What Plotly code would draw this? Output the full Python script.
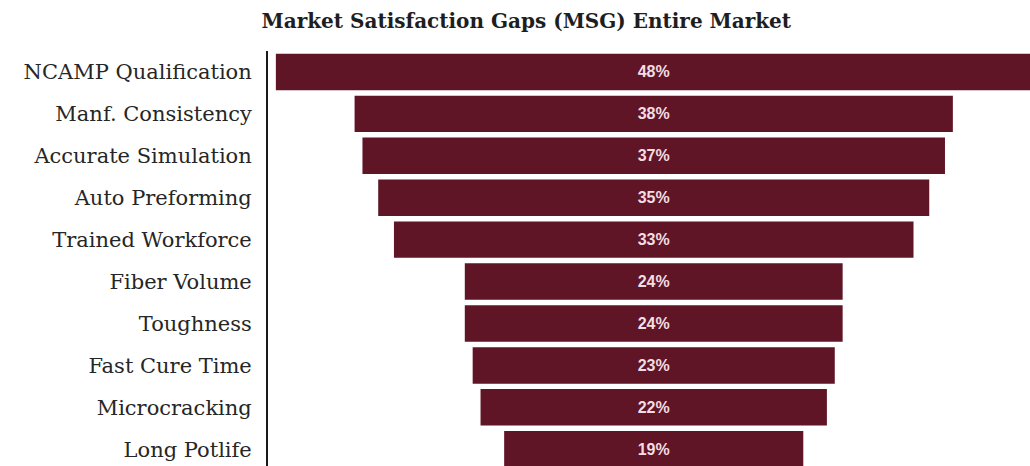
import plotly.graph_objects as go

# Market satisfaction gap per attribute (percent)
attributes = [
    "NCAMP Qualification",
    "Manf. Consistency",
    "Accurate Simulation",
    "Auto Preforming",
    "Trained Workforce",
    "Fiber Volume",
    "Toughness",
    "Fast Cure Time",
    "Microcracking",
    "Long Potlife",
]
gap_pct = [48, 38, 37, 35, 33, 24, 24, 23, 22, 19]

BAR_COLOR = "#5f1526"
SERIF = "DejaVu Serif, Liberation Serif, serif"

fig = go.Figure(
    go.Funnel(
        y=attributes,
        x=gap_pct,
        texttemplate="<b>%{x}%</b>",
        textposition="inside",
        insidetextanchor="middle",
        textfont=dict(family="Liberation Sans, Arial, sans-serif", size=16, color="#f3dde2"),
        marker=dict(color=BAR_COLOR, line=dict(width=0)),
        connector=dict(visible=False),
        hoverinfo="y+x",
    )
)

fig.update_layout(
    width=1030,
    height=466,
    margin=dict(l=268, r=0, t=51, b=0),
    paper_bgcolor="white",
    plot_bgcolor="white",
    funnelgap=0.13,
    showlegend=False,
    title=dict(
        text="<b>Market Satisfaction Gaps (MSG) Entire Market</b>",
        x=0.511,
        xanchor="center",
        y=0.955,
        yanchor="middle",
        font=dict(family=SERIF, size=20, color="#1e1e1e"),
    ),
)

fig.update_xaxes(
    range=[-24.5, 23.9],
    showgrid=False,
    zeroline=False,
    showticklabels=False,
    showline=False,
)

fig.update_yaxes(
    range=[9.4, -0.5],
    showgrid=False,
    showline=True,
    linecolor="#1a1a1a",
    linewidth=2,
    ticks="",
    ticklabelstandoff=10,
    tickfont=dict(family=SERIF, size=21, color="#262626"),
)

fig.write_html("out.html")
